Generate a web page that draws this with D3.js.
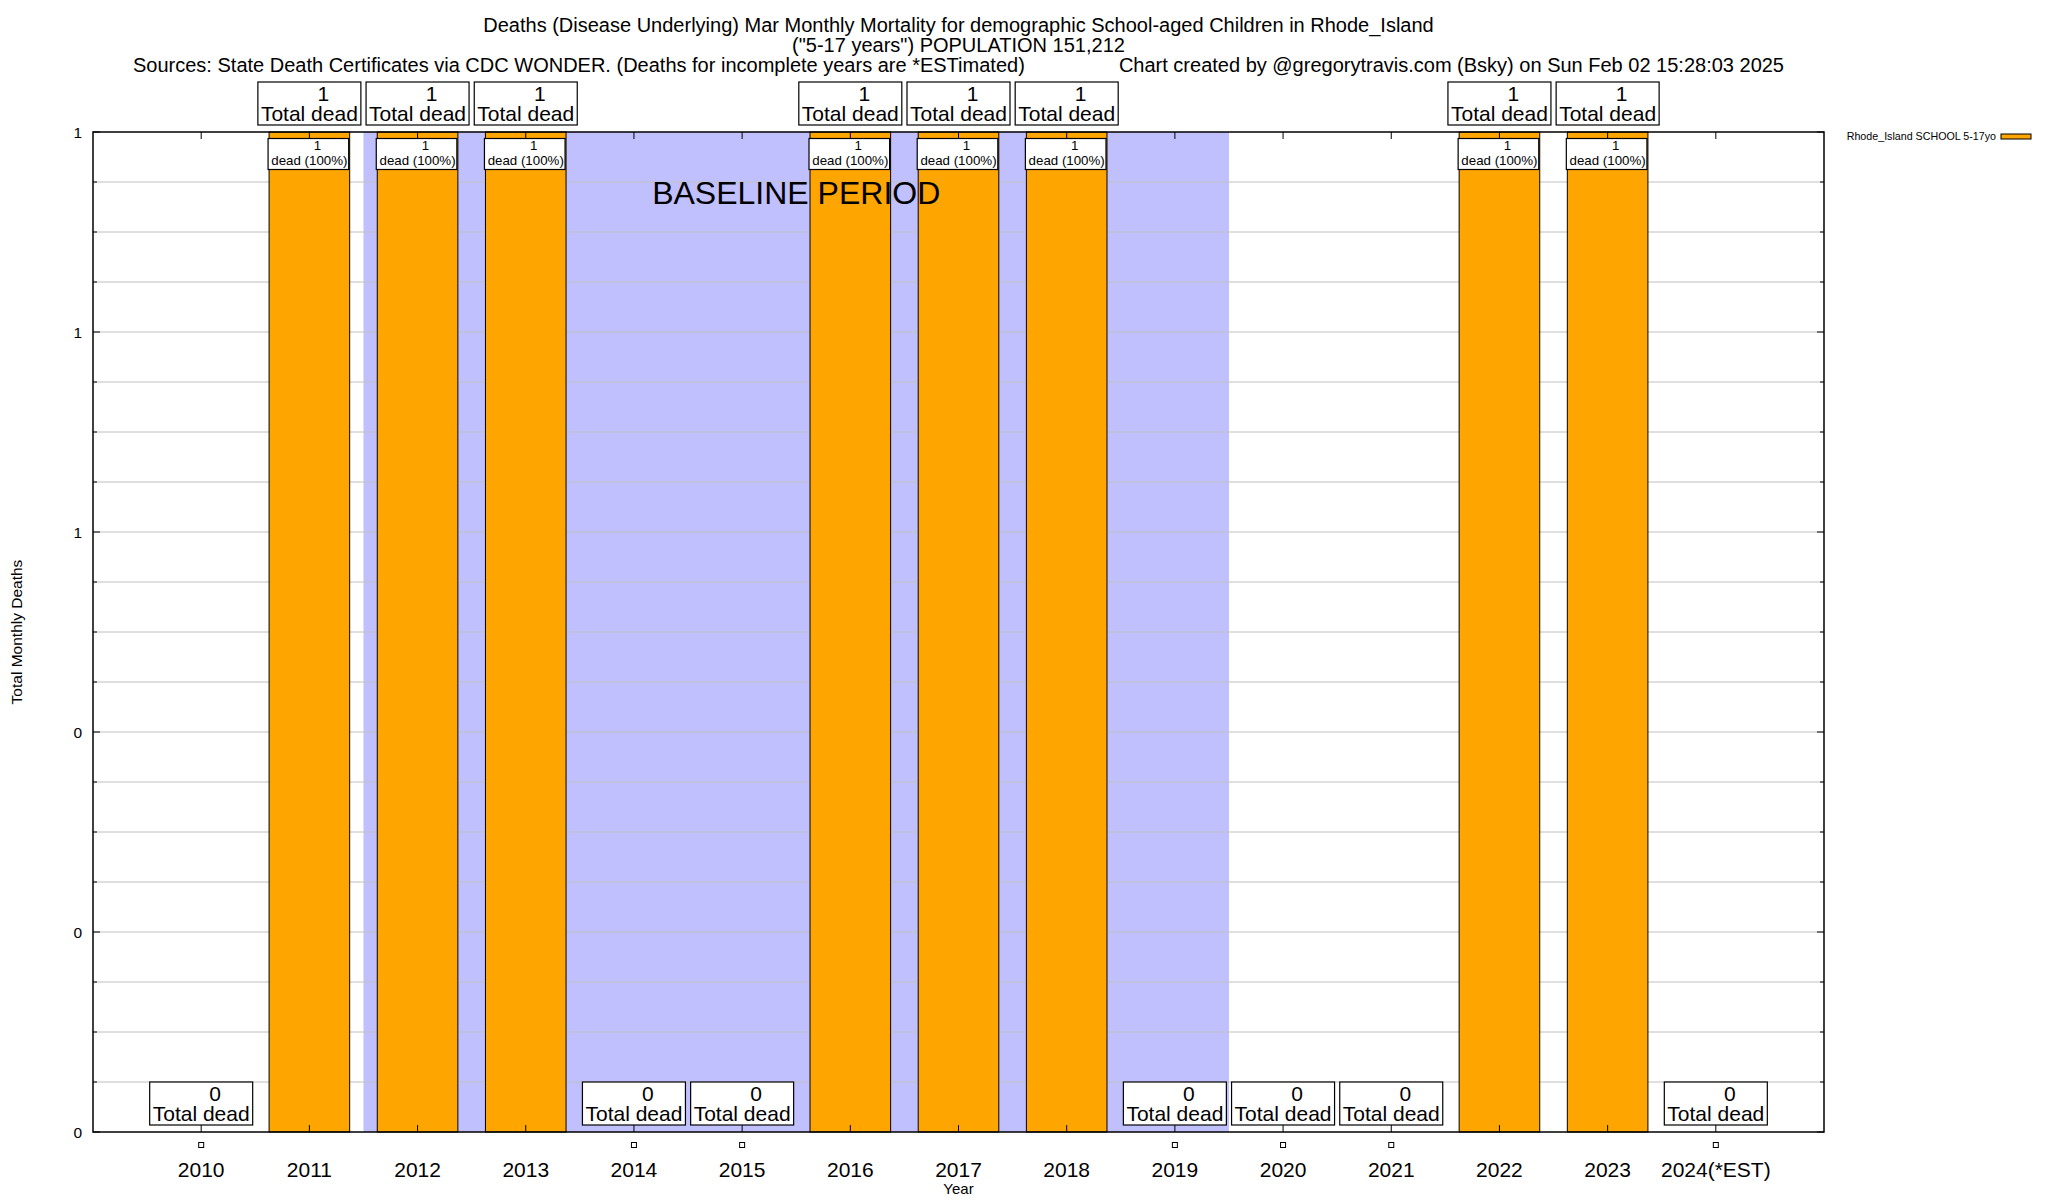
<!DOCTYPE html>
<html lang="en">
<head>
    <meta charset="UTF-8">
    <title>Rhode_Island School-aged Children Mar Monthly Mortality</title>
    <script src="https://d3js.org/d3.v7.min.js"></script>
    <style>
        body {
            margin: 0;
            background: #fff;
        }
        svg {
            display: block;
            font-family: "Liberation Sans", Arial, Helvetica, sans-serif;
        }
        .grid line {
            stroke: #c0c0c0;
            stroke-width: 1;
        }
        .bar {
            fill: #ffa500;
            stroke: #000;
            stroke-width: 1;
        }
        .box {
            fill: #fff;
            stroke: #000;
            stroke-width: 1.2;
        }
    </style>
</head>
<body>
    <svg id="chart" width="2048" height="1200"></svg>

    <script>
        // Chart data
        const years = ["2010", "2011", "2012", "2013", "2014", "2015", "2016", "2017",
                       "2018", "2019", "2020", "2021", "2022", "2023", "2024(*EST)"];
        const deaths = [0, 1, 1, 1, 0, 0, 1, 1, 1, 0, 0, 0, 1, 1, 0];
        const shares = ["100%", "100%", "100%", "100%", "100%", "100%", "100%", "100%",
                        "100%", "100%", "100%", "100%", "100%", "100%", "100%"];
        const yTicks = [0, 0.2, 0.4, 0.6, 0.8, 1];
        const baselineYears = ["2012", "2019"];

        const titleLines = [
            "Deaths (Disease Underlying) Mar Monthly Mortality for demographic School-aged Children in Rhode_Island",
            "(\"5-17 years\") POPULATION 151,212"
        ];
        const sourceText = "Sources: State Death Certificates via CDC WONDER. (Deaths for incomplete years are *ESTimated)";
        const creditText = "Chart created by @gregorytravis.com (Bsky) on Sun Feb 02 15:28:03 2025";
        const legendLabel = "Rhode_Island SCHOOL 5-17yo";

        // Layout
        const pLeft = 93, pRight = 1824, pTop = 132, pBottom = 1132;
        const svg = d3.select("#chart");

        // index -> x, using xrange [-1, n]
        const x = d3.scaleLinear().domain([-1, years.length]).range([pLeft, pRight]);
        const y = d3.scaleLinear().domain([0, 1]).range([pBottom, pTop]);
        const bw = 0.745 * (x(1) - x(0));
        const fmt = d3.format(".0f");

        svg.append("rect").attr("width", 2048).attr("height", 1200).attr("fill", "#fff");

        // Baseline shading
        const b0 = years.indexOf(baselineYears[0]) - 0.5;
        const b1 = years.indexOf(baselineYears[1]) + 0.5;
        svg.append("rect")
            .attr("x", x(b0))
            .attr("y", pTop)
            .attr("width", x(b1) - x(b0))
            .attr("height", pBottom - pTop)
            .attr("fill", "#c0c0ff");

        // Horizontal grid (every minor tic)
        svg.append("g")
            .attr("class", "grid")
            .selectAll("line")
            .data(y.ticks(25).filter(d => d > 0 && d < 1))
            .join("line")
            .attr("x1", pLeft).attr("x2", pRight)
            .attr("y1", d => y(d)).attr("y2", d => y(d));

        // Bars
        svg.selectAll(".bar")
            .data(deaths.map((v, i) => ({ v, i })).filter(d => d.v > 0))
            .join("rect")
            .attr("class", "bar")
            .attr("x", d => x(d.i) - bw / 2)
            .attr("y", d => y(d.v))
            .attr("width", bw)
            .attr("height", d => y(0) - y(d.v));

        // Baseline label
        svg.append("text")
            .attr("x", (x(b0) + x(b1)) / 2)
            .attr("y", 204)
            .attr("text-anchor", "middle")
            .attr("font-size", 32)
            .text("BASELINE PERIOD");

        // Frame and tics
        svg.append("rect")
            .attr("x", pLeft).attr("y", pTop)
            .attr("width", pRight - pLeft).attr("height", pBottom - pTop)
            .attr("fill", "none").attr("stroke", "#000").attr("stroke-width", 1.5);

        const tics = svg.append("g").attr("stroke", "#000").attr("stroke-width", 1);
        y.ticks(25).forEach(d => {
            const len = yTicks.some(t => Math.abs(t - d) < 1e-6) ? 7 : 4;
            tics.append("line").attr("x1", pLeft).attr("x2", pLeft + len).attr("y1", y(d)).attr("y2", y(d));
            tics.append("line").attr("x1", pRight).attr("x2", pRight - len).attr("y1", y(d)).attr("y2", y(d));
        });
        years.forEach((yr, i) => {
            tics.append("line").attr("x1", x(i)).attr("x2", x(i)).attr("y1", pBottom).attr("y2", pBottom - 7);
            tics.append("line").attr("x1", x(i)).attr("x2", x(i)).attr("y1", pTop).attr("y2", pTop + 7);
        });

        // Y tick labels
        svg.append("g")
            .selectAll("text")
            .data(yTicks)
            .join("text")
            .attr("x", pLeft - 11)
            .attr("y", d => y(d) + 5.5)
            .attr("text-anchor", "end")
            .attr("font-size", 15.5)
            .text(d => fmt(d));

        // X tick labels
        svg.append("g")
            .selectAll("text")
            .data(years)
            .join("text")
            .attr("x", (d, i) => x(i))
            .attr("y", 1177)
            .attr("text-anchor", "middle")
            .attr("font-size", 21)
            .text(d => d);

        // Markers for zero values
        svg.append("g")
            .selectAll("rect")
            .data(deaths.map((v, i) => ({ v, i })).filter(d => d.v === 0))
            .join("rect")
            .attr("x", d => x(d.i) - 2.5)
            .attr("y", 1142.5)
            .attr("width", 5).attr("height", 5)
            .attr("fill", "#fff").attr("stroke", "#000").attr("stroke-width", 1);

        // Total dead boxes above each value
        const totals = svg.append("g");
        deaths.forEach((v, i) => {
            const cx = x(i), yb = y(v) - 7;
            totals.append("rect").attr("class", "box")
                .attr("x", cx - 51.5).attr("y", yb - 43)
                .attr("width", 103).attr("height", 43);
            totals.append("text")
                .attr("x", cx + 14).attr("y", yb - 24.5)
                .attr("text-anchor", "middle").attr("font-size", 21)
                .text(v);
            totals.append("text")
                .attr("x", cx).attr("y", yb - 4)
                .attr("text-anchor", "middle").attr("font-size", 21)
                .text("Total dead");
        });

        // Per-bar share labels
        const inner = svg.append("g");
        deaths.forEach((v, i) => {
            if (v === 0) return;
            const cx = x(i), yt = y(v) + 6.5;
            inner.append("rect").attr("class", "box")
                .attr("x", cx - bw / 2 - 1).attr("y", yt)
                .attr("width", bw).attr("height", 31);
            inner.append("text")
                .attr("x", cx + 8).attr("y", yt + 11.5)
                .attr("text-anchor", "middle").attr("font-size", 13.3)
                .text(v);
            inner.append("text")
                .attr("x", cx).attr("y", yt + 26)
                .attr("text-anchor", "middle").attr("font-size", 13.3)
                .text("dead (" + shares[i] + ")");
        });

        // Titles
        titleLines.forEach((t, k) => {
            svg.append("text")
                .attr("x", (pLeft + pRight) / 2)
                .attr("y", 32 + k * 20)
                .attr("text-anchor", "middle")
                .attr("font-size", 20)
                .text(t);
        });
        svg.append("text").attr("x", 133).attr("y", 72).attr("font-size", 20).text(sourceText);
        svg.append("text").attr("x", 1784).attr("y", 72).attr("text-anchor", "end").attr("font-size", 20).text(creditText);

        // Axis titles
        svg.append("text")
            .attr("transform", `translate(22,${(pTop + pBottom) / 2}) rotate(-90)`)
            .attr("text-anchor", "middle")
            .attr("font-size", 15.5)
            .text("Total Monthly Deaths");
        svg.append("text")
            .attr("x", (pLeft + pRight) / 2)
            .attr("y", 1194)
            .attr("text-anchor", "middle")
            .attr("font-size", 15)
            .text("Year");

        // Legend
        svg.append("text")
            .attr("x", 1996).attr("y", 140)
            .attr("text-anchor", "end")
            .attr("font-size", 10.7)
            .text(legendLabel);
        svg.append("rect")
            .attr("x", 2001).attr("y", 134)
            .attr("width", 30).attr("height", 5)
            .attr("fill", "#ffa500").attr("stroke", "#000").attr("stroke-width", 1);
    </script>
</body>
</html>
